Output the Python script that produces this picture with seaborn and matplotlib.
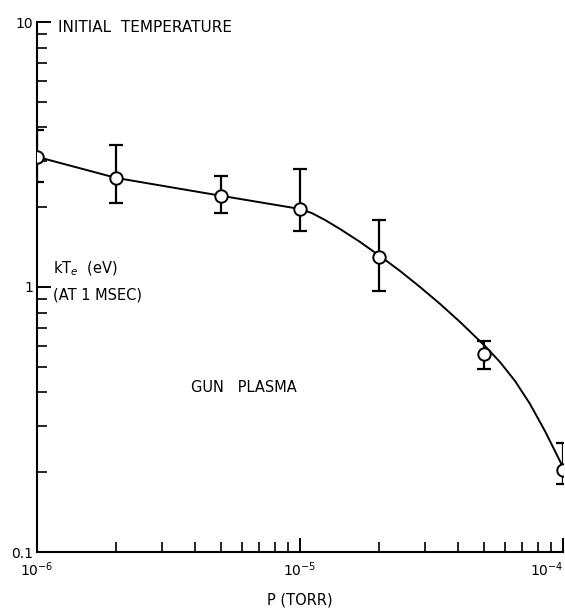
import matplotlib
matplotlib.use("Agg")
import matplotlib.pyplot as plt
import seaborn as sns
import numpy as np
import pandas as pd
from matplotlib.ticker import FixedLocator, NullFormatter, LogLocator

# Measured points
pressure = [1e-6, 2e-6, 5e-6, 1e-5, 2e-5, 5e-5, 1e-4]
kte = [3.1, 2.58, 2.20, 1.97, 1.30, 0.56, 0.204]
err_hi = [3.9, 3.43, 2.62, 2.79, 1.79, 0.625, 0.258]
err_lo = [2.5, 2.07, 1.90, 1.63, 0.97, 0.49, 0.181]

# Hand-drawn smooth curve
curve_p = [1e-6, 2e-6, 5e-6, 1e-5, 1.11e-5, 1.245e-5, 1.42e-5, 1.69e-5, 2.01e-5,
           2.40e-5, 2.86e-5, 3.41e-5, 4.06e-5, 5.05e-5, 5.76e-5, 6.57e-5,
           7.49e-5, 8.54e-5, 1e-4]
curve_t = [3.1, 2.58, 2.21, 1.97, 1.90, 1.79, 1.655, 1.48, 1.31,
           1.15, 1.00, 0.863, 0.738, 0.599, 0.521, 0.442,
           0.362, 0.286, 0.209]

xtick_labels = ["10$^{-6}$", "10$^{-5}$", "10$^{-4}$"]
ytick_labels = ["0.1", "1", "10"]

sns.set_theme(style="ticks")
plt.rcParams['font.family'] = ['DejaVu Sans']
plt.rcParams['text.color'] = 'black'
plt.rcParams['axes.labelcolor'] = 'black'
plt.rcParams['xtick.color'] = 'black'
plt.rcParams['ytick.color'] = 'black'

fig = plt.figure(figsize=(5.65, 6.13), dpi=100)
ax = fig.add_axes([37/565, 1 - 552/613, (563 - 37)/565, (552 - 22)/613])

df_curve = pd.DataFrame({"P": curve_p, "T": curve_t})
df_pts = pd.DataFrame({"P": pressure, "T": kte})

sns.lineplot(data=df_curve, x="P", y="T", ax=ax, color="black", linewidth=1.4,
             sort=True, estimator=None)

yerr = np.array([np.array(kte) - np.array(err_lo), np.array(err_hi) - np.array(kte)])
ax.errorbar(pressure, kte, yerr=yerr, fmt="none", ecolor="black",
            elinewidth=1.6, capsize=5, capthick=1.6, zorder=3)

sns.scatterplot(data=df_pts, x="P", y="T", ax=ax, s=80, facecolor="white",
                edgecolor="black", linewidth=1.4, zorder=4)

ax.set_xscale("log")
ax.set_yscale("log")
ax.set_xlim(1e-6, 1e-4)
ax.set_ylim(0.1, 10)

sns.despine(ax=ax, top=True, right=True)
for s in ["left", "bottom"]:
    ax.spines[s].set_linewidth(1.5)
    ax.spines[s].set_color("black")

ax.xaxis.set_major_locator(FixedLocator([1e-6, 1e-5, 1e-4]))
ax.set_xticklabels(xtick_labels)
ax.xaxis.set_minor_locator(LogLocator(base=10, subs=np.arange(2, 10)))
ax.xaxis.set_minor_formatter(NullFormatter())
ax.yaxis.set_major_locator(FixedLocator([0.1, 1, 10]))
ax.set_yticklabels(ytick_labels)
ax.yaxis.set_minor_locator(LogLocator(base=10, subs=np.arange(2, 10)))
ax.yaxis.set_minor_formatter(NullFormatter())

ax.tick_params(which="major", direction="in", length=10, width=1.4, colors="black",
               labelsize=10, pad=6)
ax.tick_params(which="minor", direction="in", length=7, width=1.2, colors="black")
ax.tick_params(axis="y", which="major", pad=3)
ax.get_xticklabels()[-1].set_horizontalalignment("right")

ax.set_xlabel("P (TORR)", fontsize=10.5, labelpad=10)
ax.set_ylabel("")

ax.text(0.04, 0.99, "INITIAL  TEMPERATURE", transform=ax.transAxes,
        fontsize=11, va="center", ha="left")
ax.text(0.03, 0.535, "kT$_e$  (eV)", transform=ax.transAxes,
        fontsize=10.5, va="center", ha="left")
ax.text(0.03, 0.485, "(AT 1 MSEC)", transform=ax.transAxes,
        fontsize=10.5, va="center", ha="left")
ax.text(0.394, 0.31, "GUN   PLASMA", transform=ax.transAxes,
        fontsize=10.5, va="center", ha="center")

fig.savefig("out.png", dpi=100)
